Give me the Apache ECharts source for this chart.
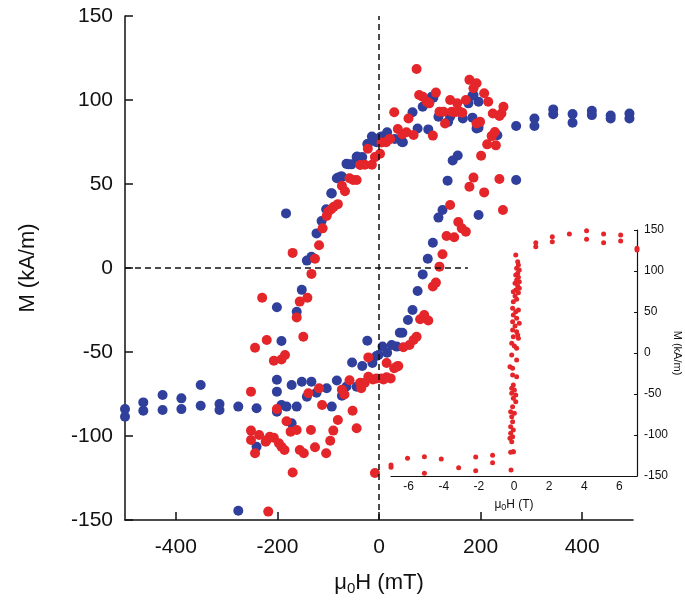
<!DOCTYPE html>
<html>
<head>
<meta charset="utf-8">
<script src="https://cdn.jsdelivr.net/npm/echarts@6/dist/echarts.min.js"></script>
<style>
html,body{margin:0;padding:0;background:#fff;}
#chart{width:685px;height:614px;}
</style>
</head>
<body>
<div id="chart"></div>
<script>
// ---- Main plot: field (mT) and magnetisation (kA/m) ----
const blueH = [493,493,456,456,419,419,381,381,343,343,306,306,270,270,
  233,196,186,176,184,192,196,184,165,140,136,117,107,104,97,86,76,66,47,45,31,16,5,2,-5,-14,-22,-23,-33,-43,-44,-54,-60,-64,-73,-75,-80,-83,-93,-94,-104,-113,-123,-133,-142,-152,-162,-183,-201,-192,
  196,125,117,106,96,86,76,66,57,46,41,35,25,16,7,-1,-5,-13,-23,-33,-53,145,155,135,
  -500,-500,-464,-464,-426,-426,-389,-389,-351,-351,-314,-314,-277,-241,-241,-277,
  -201,-201,-201,-192,-182,-162,-172,-152,-133,-142,-123,-103,-93,-83,-73,-64,-44,-172];
const blueM = [92,89,90.7,89,93.6,91,91.6,86.5,94.4,91.5,89,84.5,84.5,52.4,
  79,99,103,98,102.6,83,83.5,89.5,89,90,87,90,101.4,102,82.5,96,83,92.7,74.8,75,76.8,80.8,78.2,77.8,74.8,78.2,73.6,73.8,66,66.3,66,61.7,61.7,62,54.4,54.4,53.8,53.4,44.4,44.5,35,28,20.6,6.7,4.4,-13,-26,32.5,-23.4,-43.5,
  31.5,34.5,30,15,5.5,-3.8,-13.7,-25,-31,-38.5,-38.5,-46.8,-45.8,-50.4,-46.8,-51.8,-52.4,-56.6,-43.3,-58.3,-56.3,64,67,52,
  -84,-88.5,-80,-85,-75.6,-84.5,-77.6,-84,-69.6,-82,-81,-84.5,-82.5,-83.5,-106.4,-144.5,
  -66.5,-73.6,-85.5,-81.5,-82.5,-82.5,-69.6,-67.7,-67.7,-76.6,-74.2,-71.6,-82.5,-67,-76,-70.5,-70.7,-92.4];

const redH = [74,178,192,186,207,112,79,86,94,99,140,154,171,215,245,119,127,143,150,159,164,224,241,237,30,58,130,199,192,228,222,213,230,106,37,54,68,46,22,14,5,20,2,-8,-14,-22,-28,-37,-44,-51,-58,-67,-73,-81,-89,-94,-100,-103,-111,-118,-126,-133,-170,-141,-156,-230,-162,-149,-221,-244,-207,-192,-185,
  201,186,178,207,237,244,140,156,163,171,133,148,125,119,112,106,89,81,97,74,68,60,48,35,30,38,15,-21,23,15,9,5,-5,-12,-21,-28,-37,-35,-58,-73,-68,-52,-44,-81,-90,-96,-104,-112,-118,-139,-134,-126,-148,-156,-162,-170,-174,-182,-186,-192,-197,-201,-207,-215,-221,-223,-236,-252,-252,-252,-244,-218,-8,222];
const redM = [118.5,112,110,107,104,104.4,103,102,99,98,100,98,100,99,96,93,93,93,92.7,93,92.4,92,92,90.5,92.7,89,86,87,86,81,78.6,73.6,73,78.8,82.7,80.8,79.2,79.6,76.8,74.8,74.7,76.6,68,66,61.5,71,61.5,61.3,52.4,52.4,53.4,45.7,49,38,36.5,35,33.5,31,23.6,13.5,5.5,-3.5,9,-17.7,-20,-17.7,-29.4,-40.9,-42.9,-47.5,-55.2,-54.4,-51.8,
  66.8,53.8,48.4,45,53,34.5,37.5,27.4,23.6,21.6,19,18.3,8.2,0.8,-8.7,-11,-28,-30.5,-31.3,-40.9,-42.9,-45.8,-47.2,-58.7,-59.7,-58.3,-56.6,-53.2,-65.7,-65,-66.3,-65.7,-65.7,-66.3,-64.7,-68.3,-68.3,-71.6,-66.8,-72.4,-75.3,-85,-95.4,-90.5,-96.8,-102.8,-110.3,-81.5,-71.6,-74.6,-96.4,-106.7,-110.3,-108.3,-96.4,-121.7,-97.4,-91.2,-108.3,-106.4,-104.3,-84,-101,-100.4,-102.4,-103.4,-99.4,-73.6,-96.8,-102.4,-110.3,-145,-122,78.6];

// ---- Inset: field (T) and magnetisation (kA/m) ----
const insetH = [1.24,1.24,2.18,2.18,3.15,3.15,4.13,4.13,5.1,5.1,6.07,6.07,7.0,7.0,
  -7.0,-7.0,-6.06,-5.1,-5.1,-4.14,-3.15,-2.18,-2.18,-1.22,-1.22,-0.17,-0.04,
  0.10,0.21,0.25,0.15,0.30,0.21,0.10,0.25,0.15,0.30,0.06,0.21,0.30,0.10,-0.04,0.25,0.06,0.15,-0.04,-0.08,0.25,0.10,-0.04,0.15,-0.08,0.30,0.06,-0.08,0.15,0.21,-0.04,0.25,-0.13,0.02,0.15,-0.13,0.15,-0.23,-0.08,-0.08,0.15,-0.04,-0.13,0.02,-0.13,0.10,-0.04,0.10,-0.08,-0.19,0.02,-0.13,-0.08,-0.19,-0.04,-0.19,-0.08,-0.23,-0.13,-0.04,-0.19];
const insetM = [134.5,129.6,141.8,135.7,150.8,145,149,138.6,145,134.5,143.9,136.6,127.7,125.6,
  -136.6,-139.4,-128.4,-126.4,-146.7,-129.3,-139.8,-126.8,-143.5,-124.8,-133.7,-142.7,-120.3,
  119.5,111.4,107.3,103.3,101.2,97.2,95.1,92.3,89,87,85,81.7,78.9,76.8,74.8,73.6,69.5,65.4,62.6,54.5,52.4,50.4,46.3,42.3,38.2,36.2,32.9,28,26,22,19.9,17.9,11.8,8.5,5.7,-2.4,-8.5,-16.7,-18.7,-26.8,-28.9,-39,-43.1,-45.1,-49.2,-51.2,-55.3,-59.3,-65.4,-71.5,-73.6,-77.6,-83.7,-89.8,-93.9,-98,-102,-104,-108.1,-120.3,-121];

// Tick labels
const mainXTicks = [-400,-200,0,200,400];
const insetXTicks = [-6,-4,-2,0,2,4,6];

const zip = (a,b) => a.map((v,i) => [v,b[i]]);
const BLUE = '#2f3f9b', RED = '#e4262b';
const FONT = 'Liberation Sans, Arial, sans-serif';

const chart = echarts.init(document.getElementById('chart'), null, {renderer:'canvas'});
chart.setOption({
  animation:false,
  backgroundColor:'#fff',
  textStyle:{fontFamily:FONT},
  grid:[
    {left:125, top:16, width:508, height:504},
    {left:391, top:230, width:246, height:246}
  ],
  xAxis:[
    {type:'value', gridIndex:0, min:-500, max:500,
     axisLine:{show:true, onZero:false, lineStyle:{color:'#111', width:1.5}},
     axisTick:{show:true, inside:true, length:8, customValues:mainXTicks, lineStyle:{color:'#111', width:1.5}},
     axisLabel:{customValues:mainXTicks, fontSize:21, margin:17, color:'#111', fontFamily:FONT},
     splitLine:{show:false},
     name:'{a|μ}{s|0}{a|H (mT)}', nameLocation:'middle', nameGap:52,
     nameTextStyle:{rich:{
       a:{fontSize:22, color:'#111', fontFamily:FONT, verticalAlign:'top', lineHeight:24},
       s:{fontSize:15, color:'#111', fontFamily:FONT, verticalAlign:'bottom', lineHeight:15, padding:[16,0,0,0]}
     }}
    },
    {type:'value', gridIndex:1, min:-7, max:7,
     axisLine:{show:true, onZero:false, lineStyle:{color:'#111', width:1.2}},
     axisTick:{show:false},
     axisLabel:{customValues:insetXTicks, fontSize:12, margin:5, color:'#111', fontFamily:FONT},
     splitLine:{show:false},
     name:'{a|μ}{s|0}{a|H (T)}', nameLocation:'middle', nameGap:20,
     nameTextStyle:{rich:{
       a:{fontSize:12, color:'#111', fontFamily:FONT, verticalAlign:'top', lineHeight:13},
       s:{fontSize:9, color:'#111', fontFamily:FONT, verticalAlign:'bottom', lineHeight:9, padding:[9,0,0,0]}
     }}
    }
  ],
  yAxis:[
    {type:'value', gridIndex:0, min:-150, max:150, interval:50,
     axisLine:{show:true, onZero:false, lineStyle:{color:'#111', width:1.5}},
     axisTick:{show:true, inside:true, length:8, lineStyle:{color:'#111', width:1.5}},
     axisLabel:{fontSize:21, margin:12, color:'#111', fontFamily:FONT},
     splitLine:{show:false},
     name:'M (kA/m)', nameLocation:'middle', nameGap:86,
     nameTextStyle:{fontSize:22, color:'#111', fontFamily:FONT}
    },
    {type:'value', gridIndex:1, position:'right', min:-150, max:150, interval:50,
     axisLine:{show:true, onZero:false, lineStyle:{color:'#111', width:1.2}},
     axisTick:{show:true, inside:true, length:3, lineStyle:{color:'#111', width:1}},
     axisLabel:{fontSize:12, margin:7, color:'#111', fontFamily:FONT},
     splitLine:{show:false},
     name:'M (kA/m)', nameLocation:'middle', nameGap:34, nameRotate:-90,
     nameTextStyle:{fontSize:11, color:'#111', fontFamily:FONT}
    }
  ],
  series:[
    {type:'scatter', xAxisIndex:0, yAxisIndex:0, data:zip(blueH,blueM), symbolSize:10,
     itemStyle:{color:BLUE, opacity:1}, z:3,
     markLine:{silent:true, symbol:'none', label:{show:false},
       lineStyle:{color:'#111', width:1.5, type:[6,4]},
       data:[ {xAxis:0}, [{coord:[-500,0]},{coord:[175,0]}] ]}
    },
    {type:'scatter', xAxisIndex:0, yAxisIndex:0, data:zip(redH,redM), symbolSize:10,
     itemStyle:{color:RED, opacity:1}, z:4},
    {type:'scatter', xAxisIndex:1, yAxisIndex:1, data:zip(insetH,insetM), symbolSize:5,
     itemStyle:{color:RED, opacity:1}, z:5}
  ]
});
</script>
</body>
</html>
